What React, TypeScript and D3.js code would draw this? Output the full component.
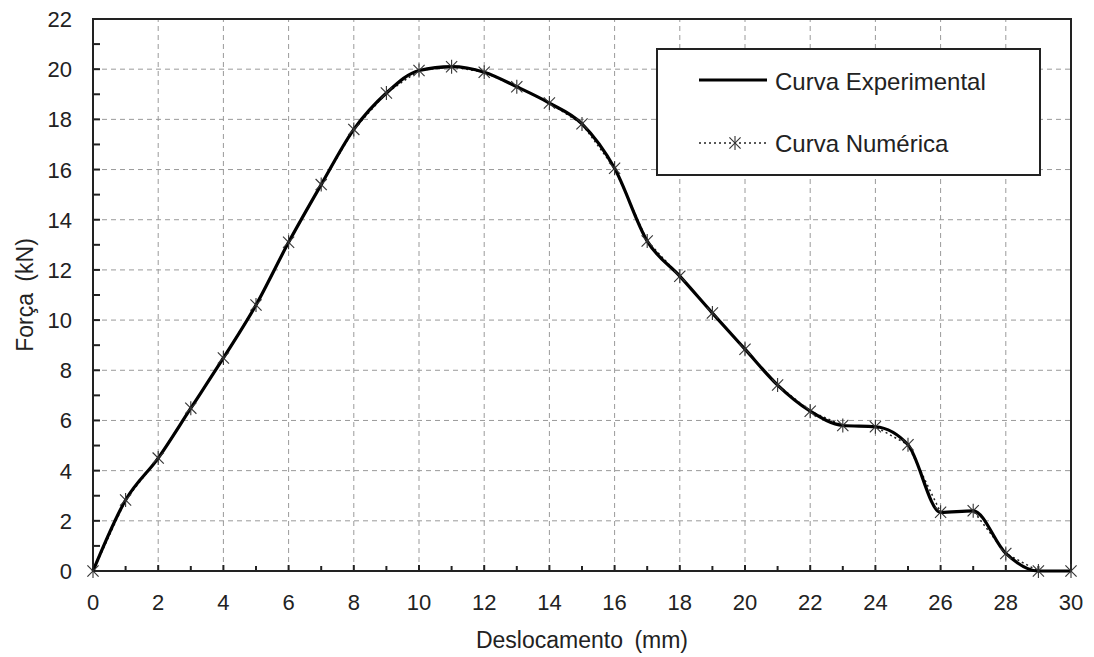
import { useEffect, useRef } from 'react'
import * as d3 from 'd3'

const desloc = [0, 1, 2, 3, 4, 5, 6, 7, 8, 9, 10, 11, 12, 13, 14, 15, 16, 17, 18, 19, 20, 21, 22, 23, 24, 25, 26, 27, 28, 29, 30]
const forcaExp = [0, 2.83, 4.5, 6.49, 8.49, 10.6, 13.1, 15.4, 17.6, 19.05, 19.95, 20.1, 19.88, 19.3, 18.65, 17.82, 16.05, 13.15, 11.75, 10.28, 8.84, 7.41, 6.37, 5.8, 5.75, 5.03, 2.34, 2.4, 0.7, 0, 0]
const forcaNum = [0, 2.83, 4.5, 6.49, 8.49, 10.6, 13.1, 15.4, 17.6, 19.05, 19.95, 20.1, 19.88, 19.3, 18.65, 17.82, 16.05, 13.15, 11.75, 10.28, 8.84, 7.41, 6.37, 5.8, 5.75, 5.03, 2.34, 2.4, 0.7, 0, 0]
const xTicks = d3.range(0, 31, 2)
const yTicks = d3.range(0, 23, 2)
const legendLabels = ['Curva Experimental', 'Curva Numérica']

export default function App() {
  const svgRef = useRef<SVGSVGElement>(null)

  useEffect(() => {
    if (!svgRef.current) return
    const width = 1094
    const height = 657
    const margin = { left: 93, right: 23, top: 19, bottom: 86 }
    const font = 'Liberation Sans, Arial, sans-serif'

    const svg = d3.select(svgRef.current)
    svg.selectAll('*').remove()
    svg.attr('width', width).attr('height', height)

    const x = d3.scaleLinear().domain([0, 30]).range([margin.left, width - margin.right])
    const y = d3.scaleLinear().domain([0, 22]).range([height - margin.bottom, margin.top])

    // grid
    const grid = svg.append('g')
    grid.selectAll('.gx')
      .data(xTicks.filter(d => d > 0 && d < 30))
      .enter().append('line')
      .attr('x1', d => x(d)).attr('x2', d => x(d))
      .attr('y1', y(0)).attr('y2', y(22))
      .attr('stroke', '#9a9a9a').attr('stroke-width', 1).attr('stroke-dasharray', '5,4')
    grid.selectAll('.gy')
      .data(yTicks.filter(d => d > 0 && d < 22))
      .enter().append('line')
      .attr('x1', x(0)).attr('x2', x(30))
      .attr('y1', d => y(d)).attr('y2', d => y(d))
      .attr('stroke', '#9a9a9a').attr('stroke-width', 1).attr('stroke-dasharray', '5,4')

    // ticks inside
    const ticks = svg.append('g').attr('stroke', '#222').attr('stroke-width', 2)
    d3.range(1, 30).forEach(v => {
      ticks.append('line')
        .attr('x1', x(v)).attr('x2', x(v))
        .attr('y1', y(0)).attr('y2', y(0) - (v % 2 === 0 ? 6 : 5))
    })
    d3.range(1, 22).forEach(v => {
      ticks.append('line')
        .attr('x1', x(0)).attr('x2', x(0) + 7)
        .attr('y1', y(v)).attr('y2', y(v))
    })

    // frame
    svg.append('rect')
      .attr('x', x(0)).attr('y', y(22))
      .attr('width', x(30) - x(0)).attr('height', y(0) - y(22))
      .attr('fill', 'none').attr('stroke', '#222').attr('stroke-width', 2)

    // tick labels
    svg.append('g').selectAll('text')
      .data(xTicks).enter().append('text')
      .attr('x', d => x(d)).attr('y', y(0) + 39)
      .attr('text-anchor', 'middle')
      .style('font-family', font).style('font-size', '22px').attr('fill', '#222')
      .text(d => d)
    svg.append('g').selectAll('text')
      .data(yTicks).enter().append('text')
      .attr('x', x(0) - 21).attr('y', d => y(d) + 8)
      .attr('text-anchor', 'end')
      .style('font-family', font).style('font-size', '22px').attr('fill', '#222')
      .text(d => d)

    // axis titles
    svg.append('text')
      .attr('x', (x(0) + x(30)) / 2).attr('y', 648)
      .attr('text-anchor', 'middle')
      .style('font-family', font).style('font-size', '23px').style('word-spacing', '5px').attr('fill', '#222')
      .text('Deslocamento (mm)')
    svg.append('text')
      .attr('transform', `translate(33, ${(y(0) + y(22)) / 2}) rotate(-90)`)
      .attr('text-anchor', 'middle')
      .style('font-family', font).style('font-size', '23px').style('word-spacing', '5px').attr('fill', '#222')
      .text('Força (kN)')

    const numData = desloc.map((d, i) => [d, forcaNum[i]] as [number, number])
    const expData = desloc.map((d, i) => [d, forcaExp[i]] as [number, number])

    const lineNum = d3.line<[number, number]>().x(d => x(d[0])).y(d => y(d[1]))
    const lineExp = d3.line<[number, number]>().x(d => x(d[0])).y(d => y(d[1])).curve(d3.curveMonotoneX)

    svg.append('path').datum(numData)
      .attr('d', lineNum).attr('fill', 'none')
      .attr('stroke', '#222').attr('stroke-width', 1.5).attr('stroke-dasharray', '2,3')

    svg.append('path').datum(expData)
      .attr('d', lineExp).attr('fill', 'none')
      .attr('stroke', '#000').attr('stroke-width', 3.2).attr('stroke-linejoin', 'round')

    const star = (g: d3.Selection<SVGGElement, unknown, null, undefined>, cx: number, cy: number) => {
      const r = 7
      const s = g.append('g').attr('transform', `translate(${cx},${cy})`)
        .attr('stroke', '#333').attr('stroke-width', 1.1)
      s.append('line').attr('x1', 0).attr('x2', 0).attr('y1', -r).attr('y2', r)
      s.append('line').attr('x1', -r * 0.8).attr('x2', r * 0.8).attr('y1', -r * 0.8).attr('y2', r * 0.8)
      s.append('line').attr('x1', -r * 0.8).attr('x2', r * 0.8).attr('y1', r * 0.8).attr('y2', -r * 0.8)
    }

    const markers = svg.append('g')
    numData.forEach(d => star(markers, x(d[0]), y(d[1])))

    // legend
    const lg = svg.append('g')
    lg.append('rect')
      .attr('x', 657).attr('y', 49).attr('width', 383).attr('height', 126)
      .attr('fill', '#fff').attr('stroke', '#222').attr('stroke-width', 2)
    lg.append('line')
      .attr('x1', 699).attr('x2', 767).attr('y1', 80).attr('y2', 80)
      .attr('stroke', '#000').attr('stroke-width', 3.2)
    lg.append('line')
      .attr('x1', 699).attr('x2', 767).attr('y1', 143).attr('y2', 143)
      .attr('stroke', '#222').attr('stroke-width', 1.5).attr('stroke-dasharray', '2,3')
    star(lg, 735, 143)
    legendLabels.forEach((t, i) => {
      lg.append('text')
        .attr('x', 775).attr('y', 90 + i * 62)
        .style('font-family', font).style('font-size', '24px').attr('fill', '#222')
        .text(t)
    })
  }, [])

  return (
    <svg ref={svgRef} style={{ position: 'absolute', left: 0, top: 0, background: '#fff' }}></svg>
  )
}
